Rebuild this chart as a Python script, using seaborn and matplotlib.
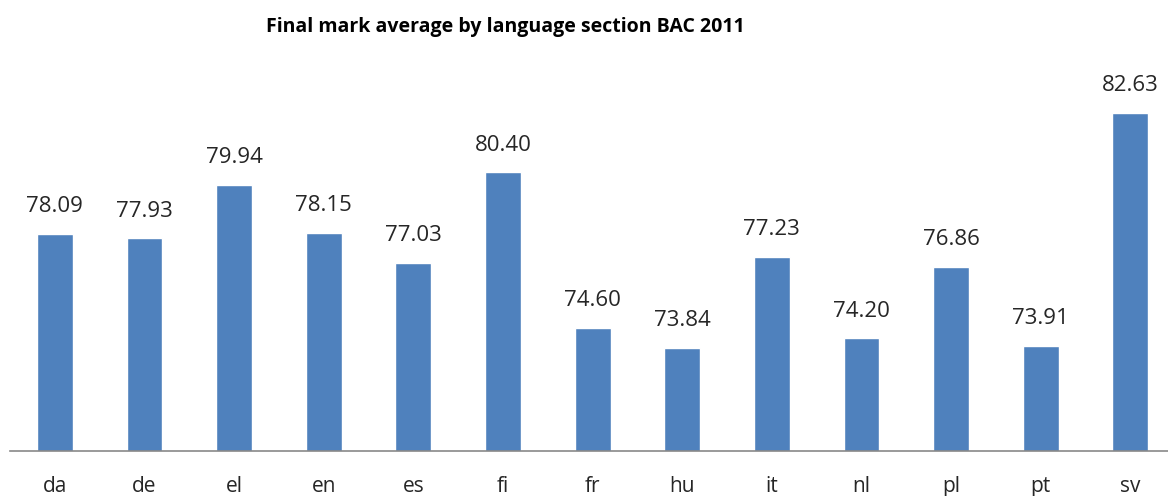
import numpy as np
import pandas as pd
import matplotlib
matplotlib.use("Agg")
import matplotlib.pyplot as plt
import seaborn as sns

# Final mark average per language section
sections = ['da', 'de', 'el', 'en', 'es', 'fi', 'fr', 'hu', 'it', 'nl', 'pl', 'pt', 'sv']
averages = [78.09, 77.93, 79.94, 78.15, 77.03, 80.40, 74.60, 73.84, 77.23, 74.20, 76.86, 73.91, 82.63]

df = pd.DataFrame({'section': sections, 'average': averages})

sns.set_style('white')
plt.rcParams['font.family'] = ['Open Sans', 'DejaVu Sans']

fig = plt.figure(figsize=(11.68, 4.96), dpi=100)
ax = fig.add_axes([10 / 1168, 45.3 / 496, 1158 / 1168, 390.7 / 496])

sns.barplot(x='section', y='average', data=df, color='#4F81BD', width=0.4,
            saturation=1, ax=ax)

ax.set_ylim(70, 70 + 390.7 / 26.77)
ax.set_xlim(-0.5, 12.42)

for c in ax.containers:
    ax.bar_label(c, fmt='%.2f', padding=12, fontsize=16, color='#262626')

ax.set_xlabel('')
ax.set_ylabel('')
ax.set_yticks([])
ax.tick_params(axis='x', length=0, labelsize=15, pad=18, colors='#262626')
for s in ['top', 'right', 'left']:
    ax.spines[s].set_visible(False)
ax.spines['bottom'].set_color('#898989')
ax.spines['bottom'].set_linewidth(1.2)

fig.text(505 / 1168, 1 - 17 / 496, 'Final mark average by language section BAC 2011',
         fontsize=14, fontweight='bold', ha='center', va='top', color='black')

fig.savefig('out.png', dpi=100)
